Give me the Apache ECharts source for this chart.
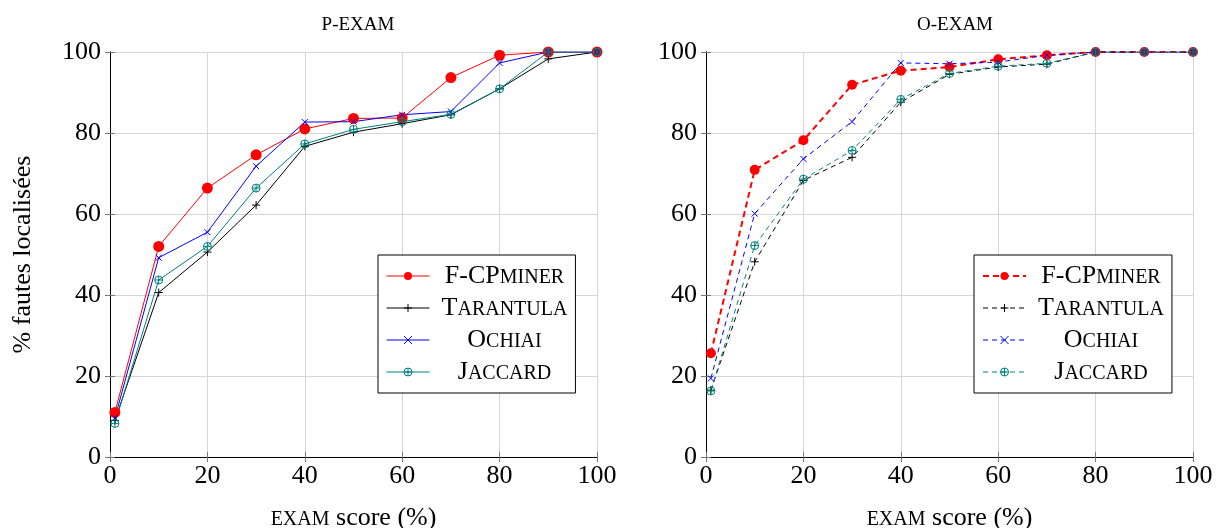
<!DOCTYPE html>
<html>
<head>
<meta charset="utf-8">
<script src="https://cdn.jsdelivr.net/npm/echarts@6/dist/echarts.min.js"></script>
<style>
  html, body { margin: 0; padding: 0; background: #fff; }
  #chart { width: 1216px; height: 528px; }
</style>
</head>
<body>
<div id="chart"></div>
<script>
// valeurs
const examScores = [1, 10, 20, 30, 40, 50, 60, 70, 80, 90, 100];
const xTicks = [0, 20, 40, 60, 80, 100];

// P-EXAM
const fcpP = [11, 52, 66.4, 74.6, 81, 83.6, 83.7, 93.7, 99.2, 100, 100];
const tarP = [9, 40.6, 50.6, 62.2, 76.7, 80.2, 82.3, 84.5, 90.9, 98.3, 100];
const ochP = [9.6, 49.2, 55.5, 71.8, 82.7, 82.8, 84.5, 85.3, 97.3, 100, 100];
const jacP = [8.3, 43.7, 52, 66.4, 77.3, 80.9, 82.8, 84.6, 90.9, 100, 100];

// O-EXAM
const fcpO = [25.6, 70.9, 78.2, 91.9, 95.4, 96.3, 98.2, 99.2, 100, 100, 100];
const tarO = [16.5, 48.2, 68.3, 74, 87.6, 94.5, 96.3, 97, 100, 100, 100];
const ochO = [19.4, 60.1, 73.6, 82.8, 97.3, 97.1, 97.5, 99.2, 100, 100, 100];
const jacO = [16.3, 52.2, 68.6, 75.7, 88.3, 94.7, 96.5, 97.2, 100, 100, 100];

const legendLabels = {
  F: '{n|F-CP}{s|MINER}',
  T: '{n|T}{s|ARANTULA}',
  O: '{n|O}{s|CHIAI}',
  J: '{n|J}{s|ACCARD}'
};

const FONT = 'Liberation Serif';
const RED = '#ff0000', BLACK = '#000000', BLUE = '#0000ff', TEAL = '#008080';

const PLUS = 'path://M0,5L10,5M5,0L5,10';
const CROSS = 'path://M0,0L10,10M10,0L0,10';
const OPLUS = 'path://M10,5A5,5 0 1,1 0,5A5,5 0 1,1 10,5ZM0,5L10,5M5,0L5,10';

const pairs = ys => examScores.map((x, i) => [x, ys[i]]);

const richText = {
  n: { fontFamily: FONT, fontSize: 26, color: '#000', align: 'center', verticalAlign: 'bottom' },
  s: { fontFamily: FONT, fontSize: 20, color: '#000', align: 'center', verticalAlign: 'bottom', padding: [0, 0, 1, 0] }
};

function makeSeries(name, ys, color, symbol, size, dashed, width, axis) {
  const filled = symbol === 'circle';
  return {
    name: name,
    type: 'line',
    xAxisIndex: axis,
    yAxisIndex: axis,
    data: pairs(ys),
    symbol: symbol,
    symbolSize: size,
    showAllSymbol: true,
    animation: false,
    lineStyle: { color: color, width: width, type: dashed ? (width > 1 ? [6, 4] : [5, 4]) : 'solid' },
    itemStyle: {
      color: filled ? color : 'none',
      borderColor: color,
      borderWidth: filled ? 0 : 1
    },
    emphasis: { disabled: true }
  };
}

function xAxes(grid) {
  return [
    {
      gridIndex: grid, type: 'value', min: 0, max: 100, interval: 20, position: 'bottom',
      axisLine: { lineStyle: { color: '#000', width: 1 } },
      axisTick: { inside: true, length: 5, lineStyle: { color: '#777' } },
      splitLine: { show: true, lineStyle: { color: '#d6d6d6', width: 1 } },
      axisLabel: { fontFamily: FONT, fontSize: 26, color: '#000', margin: 6 },
      name: '{s|EXAM}{n| score (%)}',
      nameLocation: 'middle', nameGap: 48,
      nameTextStyle: { fontFamily: FONT, fontSize: 26, color: '#000', rich: richText }
    },
    {
      gridIndex: grid, type: 'value', min: 0, max: 100, interval: 20, position: 'top',
      axisLine: { lineStyle: { color: '#000', width: 1 } },
      axisTick: { inside: true, length: 5, lineStyle: { color: '#777' } },
      splitLine: { show: false },
      axisLabel: { show: false }
    }
  ];
}

function yAxes(grid, withName) {
  return [
    {
      gridIndex: grid, type: 'value', min: 0, max: 100, interval: 20, position: 'left',
      axisLine: { show: true, lineStyle: { color: '#000', width: 1 } },
      axisTick: { show: true, inside: true, length: 5, lineStyle: { color: '#777' } },
      splitLine: { show: true, lineStyle: { color: '#d6d6d6', width: 1 } },
      axisLabel: { fontFamily: FONT, fontSize: 26, color: '#000', margin: 9 },
      name: withName ? '% fautes localisées' : '',
      nameLocation: 'middle', nameGap: 74, nameRotate: 90,
      nameTextStyle: { fontFamily: FONT, fontSize: 26, color: '#000' }
    },
    {
      gridIndex: grid, type: 'value', min: 0, max: 100, interval: 20, position: 'right',
      axisLine: { show: true, lineStyle: { color: '#000', width: 1 } },
      axisTick: { show: true, inside: true, length: 5, lineStyle: { color: '#777' } },
      splitLine: { show: false },
      axisLabel: { show: false }
    }
  ];
}

function legend(left, names, redWidth) {
  return {
    orient: 'vertical',
    left: left, top: 255,
    data: names.map((n, i) => ({
      name: n,
      lineStyle: { width: i === 0 ? redWidth : 1 },
      itemStyle: { borderWidth: i === 0 ? 0 : 1 }
    })),
    padding: [8, 8, 8, 8],
    itemWidth: 43, itemHeight: 10, itemGap: 6,
    backgroundColor: '#fff',
    borderColor: '#000', borderWidth: 1, borderRadius: 0,
    selectedMode: false,
    formatter: name => legendLabels[name.slice(1)],
    textStyle: { fontFamily: FONT, fontSize: 26, color: '#000', width: 140, align: 'center', rich: richText }
  };
}

const chart = echarts.init(document.getElementById('chart'), null, { renderer: 'canvas' });

chart.setOption({
  backgroundColor: '#fff',
  animation: false,
  title: [
    { text: 'P-EXAM', left: 353, top: 11, textAlign: 'center',
      textStyle: { fontFamily: FONT, fontSize: 19, fontWeight: 'normal', color: '#000' } },
    { text: 'O-EXAM', left: 950, top: 11, textAlign: 'center',
      textStyle: { fontFamily: FONT, fontSize: 19, fontWeight: 'normal', color: '#000' } }
  ],
  grid: [
    { left: 110, top: 52, width: 487, height: 405, outerBoundsMode: 'none', containLabel: false },
    { left: 706, top: 52, width: 487, height: 405, outerBoundsMode: 'none', containLabel: false }
  ],
  xAxis: xAxes(0).concat(xAxes(1)),
  yAxis: yAxes(0, true).concat(yAxes(1, false)),
  legend: [
    legend(378, ['pF', 'pT', 'pO', 'pJ'], 1),
    legend(974, ['oF', 'oT', 'oO', 'oJ'], 2)
  ],
  series: [
    makeSeries('pF', fcpP, RED, 'circle', 11, false, 1, 0),
    makeSeries('pT', tarP, BLACK, PLUS, 8, false, 1, 0),
    makeSeries('pO', ochP, BLUE, CROSS, 6, false, 1, 0),
    makeSeries('pJ', jacP, TEAL, OPLUS, 8, false, 1, 0),
    makeSeries('oF', fcpO, RED, 'circle', 10, true, 2, 2),
    makeSeries('oT', tarO, BLACK, PLUS, 8, true, 1, 2),
    makeSeries('oO', ochO, BLUE, CROSS, 6, true, 1, 2),
    makeSeries('oJ', jacO, TEAL, OPLUS, 8, true, 1, 2)
  ]
});
</script>
</body>
</html>
